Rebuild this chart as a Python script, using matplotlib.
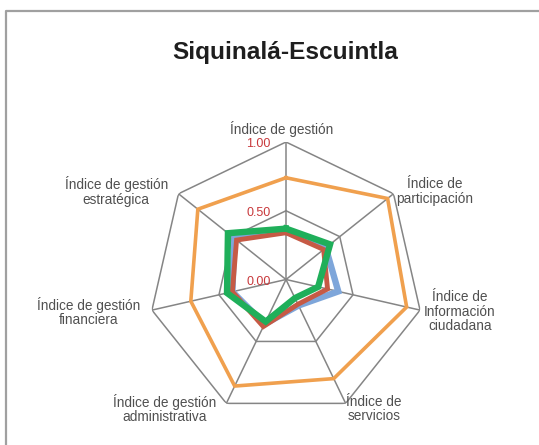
import numpy as np
import matplotlib
matplotlib.use('Agg')
import matplotlib.pyplot as plt
from matplotlib.lines import Line2D

# data
categories = ['Índice de gestión', 'Índice de\nparticipación', 'Índice de\nInformación\nciudadana',
              'Índice de\nservicios', 'Índice de gestión\nadministrativa', 'Índice de gestión\nfinanciera',
              'Índice de gestión\nestratégica']
orange_vals = [0.74, 0.945, 0.90, 0.80, 0.86, 0.71, 0.82]
blue_vals = [0.35, 0.37, 0.39, 0.21, 0.36, 0.40, 0.48]
red_vals = [0.34, 0.35, 0.31, 0.20, 0.38, 0.40, 0.46]
green_vals = [0.37, 0.41, 0.24, 0.15, 0.34, 0.44, 0.54]
grid_levels = [0.0, 0.5, 1.0]
grid_labels = ['0.00', '0.50', '1.00']
title = 'Siquinalá-Escuintla'

plt.rcParams['font.family'] = ['Liberation Sans', 'DejaVu Sans']

fig = plt.figure(figsize=(5.39, 4.45), dpi=100)
ax = fig.add_axes([0.2755, 0.0629, 0.5102, 0.618], projection='polar')
ax.set_theta_zero_location('N')
ax.set_theta_direction(-1)
ax.set_ylim(0, 1)
ax.axis('off')

n = len(categories)
angles = np.linspace(0, 2 * np.pi, n, endpoint=False)
closed = np.append(angles, angles[0])

# heptagon grid + spokes
for lvl in grid_levels[1:]:
    ax.plot(closed, [lvl] * (n + 1), color='#858585', lw=1.1, zorder=1)
for a in angles:
    ax.plot([a, a], [0, grid_levels[-1]], color='#858585', lw=1.1, zorder=1)

# series
series = [(blue_vals, '#7EA6DA', 4.6), (red_vals, '#C65A45', 3.5),
          (green_vals, '#1FAF5A', 4.6), (orange_vals, '#F0A04E', 2.6)]
for vals, col, lw in series:
    ax.plot(closed, vals + vals[:1], color=col, lw=lw, zorder=3, solid_joinstyle='miter')

# radial tick labels
for lvl, lab in zip(grid_levels, grid_labels):
    ax.annotate(lab, xy=(0, lvl), xytext=(-11, -1.5), textcoords='offset points',
                ha='right', va='center', fontsize=9, color='#C8383B', zorder=5)

# category labels
label_pos = [(-1.5, 1.095), (59.4, 1.259), (100.5, 1.286), (145.75, 1.14),
             (-136.9, 1.289), (-99.3, 1.454), (-62.6, 1.39)]
for lab, (th, r) in zip(categories, label_pos):
    ax.text(np.deg2rad(th), r, lab, ha='center', va='center', fontsize=9.8,
            color='#505050', linespacing=1.05, clip_on=False)

fig.text(285 / 539, 1 - 52 / 445, title, ha='center', va='center',
         fontsize=17.6, fontweight='bold', color='#1e1e1e')

# frame around the chart
x0, y1 = 5.5 / 539, 1 - 10.5 / 445
fig.add_artist(Line2D([x0, x0, 1.01], [-0.01, y1, y1], transform=fig.transFigure,
                      color='#a0a0a0', lw=1.6))

fig.savefig('out.png', dpi=100, facecolor='white')
